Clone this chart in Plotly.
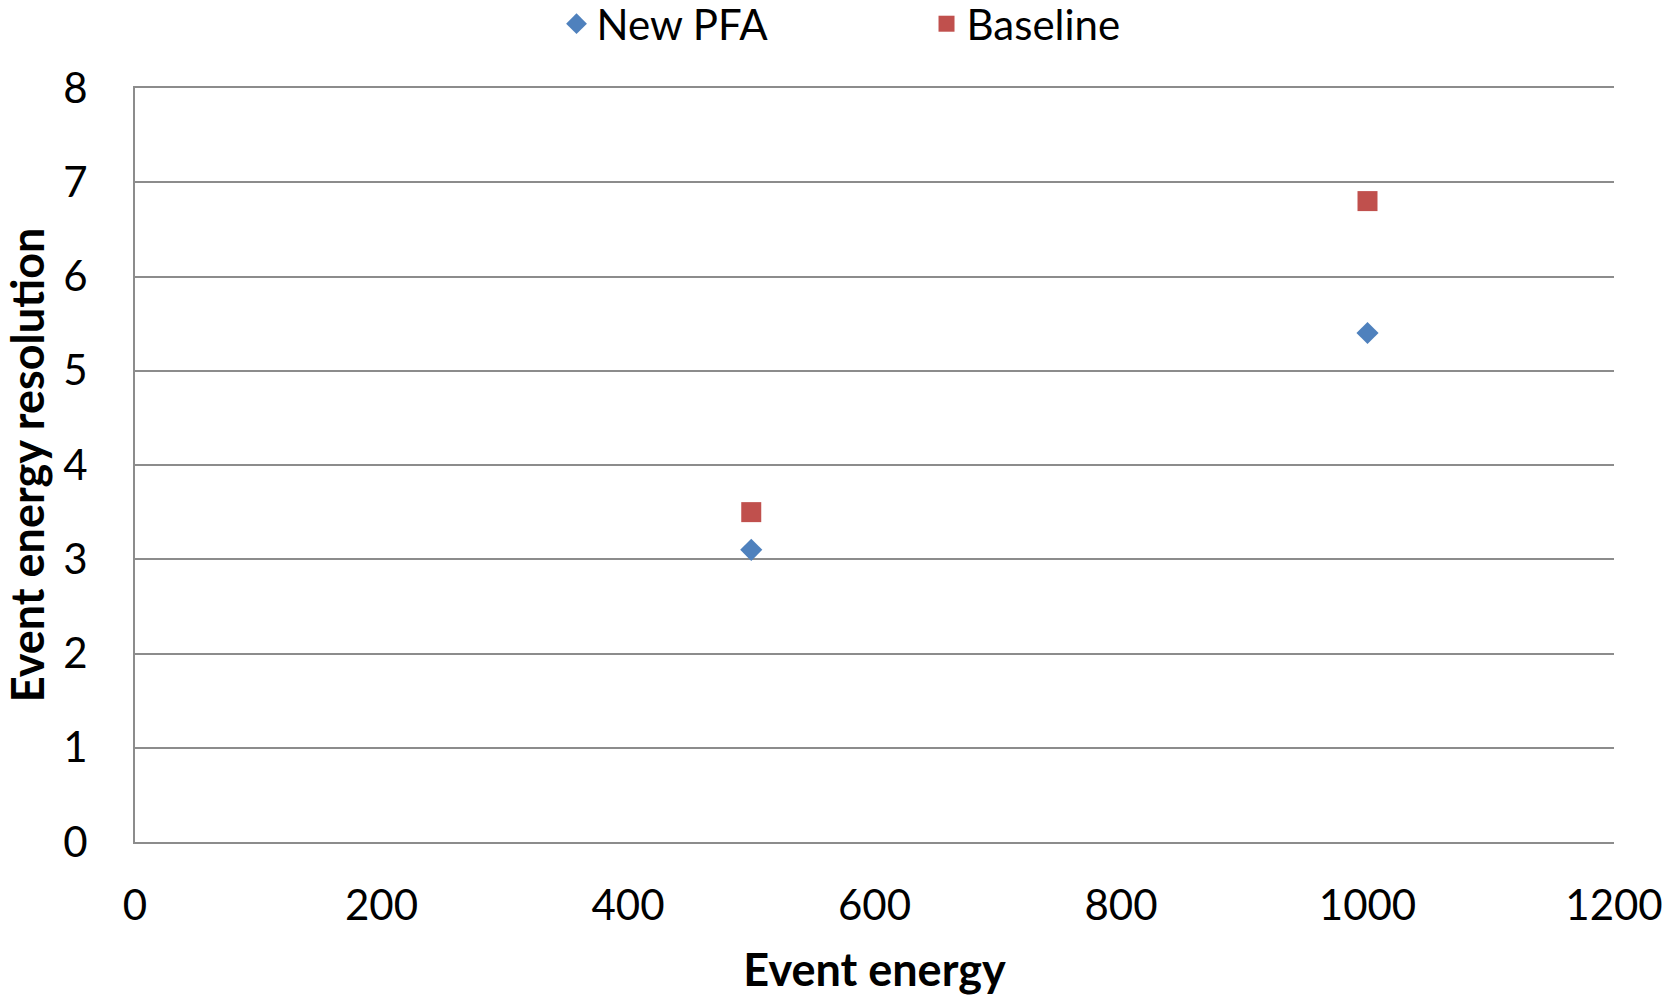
import plotly.graph_objects as go

energy = [500, 1000]
new_pfa = [3.1, 5.4]
baseline = [3.5, 6.8]

x_ticks = [0, 200, 400, 600, 800, 1000, 1200]
y_ticks = [0, 1, 2, 3, 4, 5, 6, 7, 8]

FONT = "Lato"
fig = go.Figure()
fig.add_trace(go.Scatter(x=energy, y=new_pfa, mode="markers", name="New PFA",
                         marker=dict(symbol="diamond", size=17, color="#4F81BD")))
fig.add_trace(go.Scatter(x=energy, y=baseline, mode="markers", name="Baseline",
                         marker=dict(symbol="square", size=20, color="#C0504D")))

grid = "#8C8C8C"
fig.update_layout(
    width=1667, height=996,
    margin=dict(l=135, r=53, t=88, b=154, autoexpand=False),
    plot_bgcolor="white", paper_bgcolor="white",
    font=dict(family=FONT, size=42, color="black"),
    showlegend=True,
    legend=dict(orientation="h", x=0.285, xanchor="left", y=1.085, yanchor="middle",
                entrywidth=325, entrywidthmode="pixels",
                font=dict(family=FONT, size=42), bgcolor="rgba(0,0,0,0)"),
    xaxis=dict(range=[0, 1200], tickvals=x_ticks, ticktext=[str(v) for v in x_ticks],
               showgrid=False, zeroline=False, showline=True, mirror=True,
               linecolor=grid, linewidth=2,
               ticks="", ticklabelstandoff=26,
               title=dict(text="<b>Event energy</b>", font=dict(family=FONT, size=45), standoff=28)),
    yaxis=dict(range=[0, 8], tickvals=y_ticks, ticktext=[str(v) for v in y_ticks],
               showgrid=True, gridcolor=grid, gridwidth=2, zeroline=False,
               showline=True, linecolor=grid, linewidth=2, ticks="", ticklabelstandoff=37,
               title=dict(text="<b>Event energy resolution</b>", font=dict(family=FONT, size=45), standoff=12)),
)
fig.write_html("out.html")
